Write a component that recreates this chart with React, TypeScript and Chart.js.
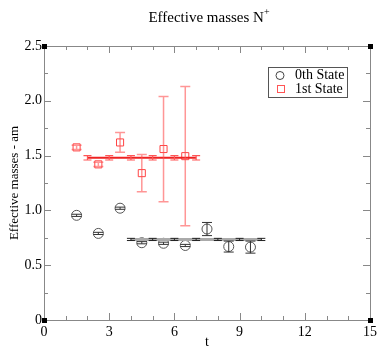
import React, { useEffect, useRef } from "react";
import { Chart, registerables } from "chart.js";

Chart.register(...registerables);

const t0 = [1.5, 2.5, 3.5, 4.5, 5.5, 6.5, 7.5, 8.5, 9.5];
const m0 = [0.955, 0.79, 1.02, 0.705, 0.7, 0.68, 0.83, 0.67, 0.665];
const e0 = [0.01, 0.01, 0.01, 0.01, 0.01, 0.01, 0.06, 0.05, 0.055];

const t1 = [1.5, 2.5, 3.5, 4.5, 5.5, 6.5];
const m1 = [1.575, 1.42, 1.62, 1.34, 1.56, 1.495];
const e1 = [0.02, 0.02, 0.09, 0.17, 0.48, 0.635];

const fit0T = [4, 5, 6, 7, 8, 9, 10];
const fit0M = [0.735, 0.735, 0.735, 0.735, 0.735, 0.735, 0.735];
const fit0E = [0.01, 0.01, 0.01, 0.01, 0.01, 0.01, 0.01];

const fit1T = [2, 3, 4, 5, 6, 7];
const fit1M = [1.48, 1.48, 1.48, 1.48, 1.48, 1.48];
const fit1E = [0.02, 0.02, 0.02, 0.02, 0.02, 0.02];

const xTicks = [0, 3, 6, 9, 12, 15];
const yTicks = [0, 0.5, 1, 1.5, 2, 2.5];
const legendLabels = ["0th State", "1st State"];
const xTitle = "t";

const SERIF = "'Liberation Serif', 'DejaVu Serif', serif";

const zip = (xs: number[], ys: number[]) => xs.map((x, i) => ({ x, y: ys[i] }));

const errorBarPlugin = {
  id: "errorBars",
  afterDatasetsDraw(chart: any) {
    const ctx = chart.ctx;
    const xs = chart.scales.x;
    const ys = chart.scales.y;
    chart.data.datasets.forEach((ds: any) => {
      if (!ds.errors) return;
      ctx.save();
      ctx.strokeStyle = ds.errColor;
      ctx.lineWidth = ds.errWidth || 1;
      const cap = ds.capHalf || 5;
      ds.data.forEach((p: any, i: number) => {
        const px = xs.getPixelForValue(p.x);
        const top = ys.getPixelForValue(p.y + ds.errors[i]);
        const bot = ys.getPixelForValue(p.y - ds.errors[i]);
        ctx.beginPath();
        ctx.moveTo(px, top);
        ctx.lineTo(px, bot);
        ctx.moveTo(px - cap, top);
        ctx.lineTo(px + cap, top);
        ctx.moveTo(px - cap, bot);
        ctx.lineTo(px + cap, bot);
        ctx.stroke();
      });
      ctx.restore();
    });
  },
};

const framePlugin = {
  id: "frame",
  afterDraw(chart: any) {
    const ctx = chart.ctx;
    const { left, right, top, bottom } = chart.chartArea;
    const xs = chart.scales.x;
    const ys = chart.scales.y;
    ctx.save();
    ctx.strokeStyle = "#888888";
    ctx.lineWidth = 1;
    ctx.strokeRect(left + 0.5, top + 0.5, right - left, bottom - top);
    ctx.beginPath();
    for (let v = 0; v <= 15; v += 1) {
      const px = Math.round(xs.getPixelForValue(v)) + 0.5;
      const len = v % 3 === 0 ? 7 : 4;
      ctx.moveTo(px, bottom);
      ctx.lineTo(px, bottom - len);
      ctx.moveTo(px, top);
      ctx.lineTo(px, top + len);
    }
    for (let v = 0; v <= 2.5001; v += 0.25) {
      const py = Math.round(ys.getPixelForValue(v)) + 0.5;
      const major = Math.abs(v * 2 - Math.round(v * 2)) < 1e-6;
      const len = major ? 7 : 4;
      ctx.moveTo(left, py);
      ctx.lineTo(left + len, py);
      ctx.moveTo(right, py);
      ctx.lineTo(right - len, py);
    }
    ctx.stroke();
    ctx.fillStyle = "#000000";
    [
      [left, top],
      [right, top],
      [left, bottom],
      [right, bottom],
    ].forEach(([x, y]) => ctx.fillRect(x - 2, y - 2, 5, 5));

    // title
    ctx.fillStyle = "#000000";
    ctx.font = "15px " + SERIF;
    ctx.textBaseline = "alphabetic";
    const main = "Effective masses N";
    const w = ctx.measureText(main).width;
    ctx.font = "10px " + SERIF;
    const ws = ctx.measureText("+").width;
    const cx = (left + right) / 2 + 2;
    const sx = cx - (w + ws) / 2;
    ctx.font = "15px " + SERIF;
    ctx.textAlign = "left";
    ctx.fillText(main, sx, 22);
    ctx.font = "10px " + SERIF;
    ctx.fillText("+", sx + w, 15);

    // x axis title
    ctx.font = "14px " + SERIF;
    ctx.textAlign = "center";
    ctx.textBaseline = "middle";
    ctx.fillText(xTitle, (left + right) / 2, 342);

    // legend
    ctx.textAlign = "left";
    const lx = 268, ly = 67, lw = 79, lh = 30;
    ctx.strokeStyle = "#555555";
    ctx.lineWidth = 1;
    ctx.strokeRect(lx + 0.5, ly + 0.5, lw, lh);
    ctx.strokeStyle = "#444444";
    ctx.beginPath();
    ctx.arc(280, 75.5, 4, 0, Math.PI * 2);
    ctx.stroke();
    ctx.strokeStyle = "#ff5555";
    ctx.strokeRect(277.5, 85.5, 7, 7);
    ctx.fillStyle = "#000000";
    ctx.font = "14px " + SERIF;
    ctx.textBaseline = "middle";
    ctx.fillText(legendLabels[0], 295, 75.5);
    ctx.fillText(legendLabels[1], 295, 89.5);
    ctx.restore();
  },
};

export default function App() {
  const ref = useRef<HTMLCanvasElement>(null);
  useEffect(() => {
    if (!ref.current) return;
    const chart = new Chart(ref.current, {
      type: "scatter",
      data: {
        datasets: [
          {
            label: "fit0",
            data: zip(fit0T, fit0M),
            showLine: true,
            borderColor: "#aaaaaa",
            borderWidth: 3,
            pointRadius: 0,
            errors: fit0E,
            errColor: "#222222",
            errWidth: 1,
            capHalf: 4,
          } as any,
          {
            label: "fit1",
            data: zip(fit1T, fit1M),
            showLine: true,
            borderColor: "#ee2222",
            borderWidth: 2,
            pointRadius: 0,
            errors: fit1E,
            errColor: "#ff5555",
            errWidth: 1.2,
            capHalf: 4,
          } as any,
          {
            label: legendLabels[0],
            data: zip(t0, m0),
            showLine: false,
            pointStyle: "circle",
            pointRadius: 5,
            borderColor: "#555555",
            borderWidth: 1,
            backgroundColor: "rgba(0,0,0,0)",
            errors: e0,
            errColor: "#333333",
            errWidth: 1,
            capHalf: 5,
          } as any,
          {
            label: legendLabels[1],
            data: zip(t1, m1),
            showLine: false,
            pointStyle: "rect",
            pointRadius: 5,
            borderColor: "#ff4444",
            borderWidth: 1,
            backgroundColor: "rgba(0,0,0,0)",
            errors: e1,
            errColor: "rgba(255,80,80,0.6)",
            errWidth: 1.5,
            capHalf: 5,
          } as any,
        ],
      },
      options: {
        animation: false,
        responsive: false,
        maintainAspectRatio: false,
        layout: { padding: { top: 46, right: 8, left: 0, bottom: 0 } },
        plugins: {
          legend: { display: false },
          tooltip: { enabled: false },
          title: { display: false },
        },
        scales: {
          x: {
            type: "linear",
            min: 0,
            max: 15,
            afterBuildTicks: (s: any) => {
              s.ticks = xTicks.map((v) => ({ value: v }));
            },
            afterFit: (s: any) => {
              s.height = 28;
            },
            grid: { display: false, drawTicks: false },
            border: { display: false },
            ticks: {
              color: "#000000",
              padding: 4,
              font: { family: SERIF, size: 14 },
              maxRotation: 0,
            },
            title: { display: false },
          },
          y: {
            type: "linear",
            min: 0,
            max: 2.5,
            afterBuildTicks: (s: any) => {
              s.ticks = yTicks.map((v) => ({ value: v }));
            },
            afterFit: (s: any) => {
              s.width = 44;
            },
            grid: { display: false, drawTicks: false },
            border: { display: false },
            ticks: {
              color: "#000000",
              padding: 2,
              font: { family: SERIF, size: 14 },
            },
            title: {
              display: true,
              text: "Effective masses - am",
              color: "#000000",
              padding: { top: 7, bottom: 0 },
              font: { family: SERIF, size: 13 },
            },
          },
        },
      } as any,
      plugins: [errorBarPlugin, framePlugin],
    });
    return () => chart.destroy();
  }, []);
  return (
    <div style={{ position: "absolute", left: 0, top: 0, width: 381, height: 348, background: "#fff" }}>
      <canvas ref={ref} width={381} height={348} style={{ width: 381, height: 348 }} />
    </div>
  );
}
